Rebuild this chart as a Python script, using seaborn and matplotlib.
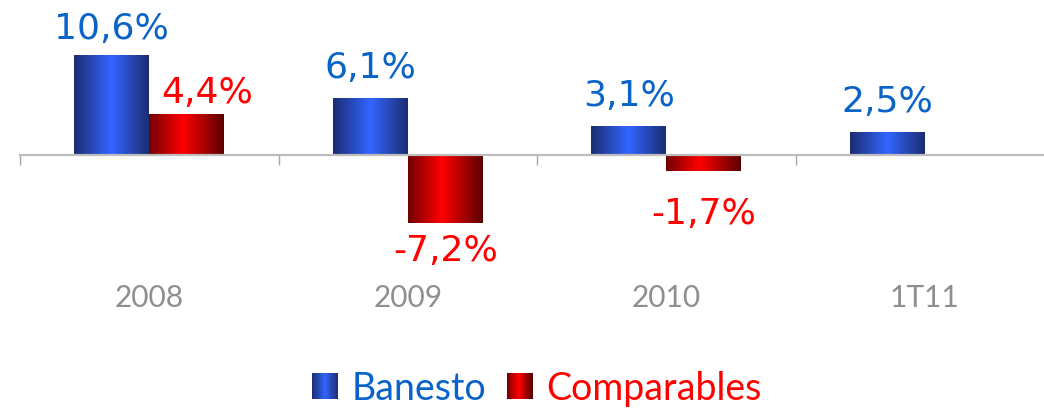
import numpy as np
import pandas as pd
import matplotlib
matplotlib.use("Agg")
import matplotlib.pyplot as plt
import seaborn as sns
from matplotlib.colors import LinearSegmentedColormap
from matplotlib.legend_handler import HandlerBase
from matplotlib.patches import Rectangle, Patch

# ---------------- data ----------------
categories = ["2008", "2009", "2010", "1T11"]
series_names = ["Banesto", "Comparables"]
banesto = [10.6, 6.1, 3.1, 2.5]
comparables = [4.4, -7.2, -1.7, np.nan]

# ---------------- style ----------------
BLUE_TXT = "#0a64c8"
RED_TXT = "#ff0000"
GRAY_TXT = "#8f8f8f"
LINE_GRAY = "#bdbdbd"
cmaps = {
    "Banesto": LinearSegmentedColormap.from_list(
        "b", [(0, "#1b2c72"), (0.5, "#3366ff"), (1, "#1b2c72")]),
    "Comparables": LinearSegmentedColormap.from_list(
        "r", [(0, "#720000"), (0.45, "#ff0000"), (1, "#5a0000")]),
}
txt_colors = {"Banesto": BLUE_TXT, "Comparables": RED_TXT}
# label offsets in pixels (dx, dy from bar end to text baseline)
label_offsets = {
    ("Banesto", 0): (0, 17), ("Comparables", 0): (20, 12),
    ("Comparables", 1): (0, -37), ("Comparables", 2): (0, -52),
}

df = pd.DataFrame({
    "cat": categories * 2,
    "series": [series_names[0]] * 4 + [series_names[1]] * 4,
    "val": banesto + comparables,
})

DPI = 100
W, H = 1044, 414
fig = plt.figure(figsize=(W / DPI, H / DPI), dpi=DPI)
px = 72 / DPI  # points per pixel

# axes: x from pixel 20 to 1054 (4 categories * 258.5 px), y from pixel 0 to 300
ax = fig.add_axes([20 / W, (H - 300) / H, 1034 / W, 300 / H])
sns.barplot(data=df, x="cat", y="val", hue="series", order=categories,
            hue_order=series_names, width=0.58, gap=0, legend=False,
            palette=["#3366ff", "#ff0000"], ax=ax, saturation=1)

scale = 9.4  # px per percent
ymax = 156 / scale
ymin = -(300 - 156) / scale

grad = np.linspace(0, 1, 256)[np.newaxis, :]
for name, cont, vals in zip(series_names, ax.containers, [banesto, comparables]):
    for i, (rect, v) in enumerate(zip(cont.patches, vals)):
        if v is None or np.isnan(v):
            continue
        x0, y0 = rect.get_x(), rect.get_y()
        x1, y1 = x0 + rect.get_width(), y0 + rect.get_height()
        im = ax.imshow(grad, cmap=cmaps[name], aspect="auto",
                       extent=(x0, x1, min(y0, y1), max(y0, y1)),
                       zorder=rect.get_zorder() + 0.1, interpolation="bilinear")
        im.set_clip_path(rect)
        label = f"{v:.1f}".replace(".", ",") + "%"
        dx, dy = label_offsets.get((name, i), (0, 21 if v >= 0 else -40))
        xc = x0 + rect.get_width() / 2
        ax.annotate(label, xy=(xc, v), xytext=(dx * px, dy * px),
                    textcoords="offset points", ha="center", va="baseline",
                    fontsize=26, color=txt_colors[name], family="DejaVu Sans")

ax.set_xlim(-0.5, 3.5)
ax.set_ylim(ymin, ymax)

# zero line with boundary ticks
for s in ["top", "right", "left"]:
    ax.spines[s].set_visible(False)
ax.spines["bottom"].set_position(("data", 0))
ax.spines["bottom"].set_color(LINE_GRAY)
ax.spines["bottom"].set_linewidth(1.6)
ax.spines["bottom"].set_zorder(5)
ax.set_xticks([-0.5, 0.5, 1.5, 2.5])
ax.set_xticklabels([])
ax.tick_params(axis="x", direction="out", length=7.5, width=1, color="#a8a8a8")
ax.set_yticks([])
ax.set_xlabel("")
ax.set_ylabel("")

for i, c in enumerate(categories):
    ax.annotate(c, xy=(i, H - 298), xycoords=("data", "figure pixels"),
                ha="center", va="center", fontsize=21.5, color=GRAY_TXT,
                family="Lato")


class GradHandler(HandlerBase):
    def __init__(self, cmap):
        super().__init__()
        self.cmap = cmap

    def create_artists(self, legend, orig_handle, xdescent, ydescent, width,
                       height, fontsize, trans):
        n = 24
        arts = []
        for k in range(n):
            r = Rectangle((-xdescent + width * k / n, -ydescent), width / n + 0.3,
                          height, facecolor=self.cmap((k + 0.5) / n),
                          edgecolor="none", transform=trans)
            arts.append(r)
        return arts


handles = [Patch(label=n) for n in series_names]
leg = fig.legend(handles=handles, labels=series_names, loc="center",
                 bbox_to_anchor=(537 / W, 1 - 389 / H), ncol=2, frameon=False,
                 prop={"family": "Lato", "size": 27},
                 handlelength=0.68, handleheight=0.68, handletextpad=0.37,
                 columnspacing=0.55,
                 handler_map={handles[0]: GradHandler(cmaps["Banesto"]),
                              handles[1]: GradHandler(cmaps["Comparables"])})
for t, n in zip(leg.get_texts(), series_names):
    t.set_color(txt_colors[n])

fig.savefig("out.png", dpi=DPI)
